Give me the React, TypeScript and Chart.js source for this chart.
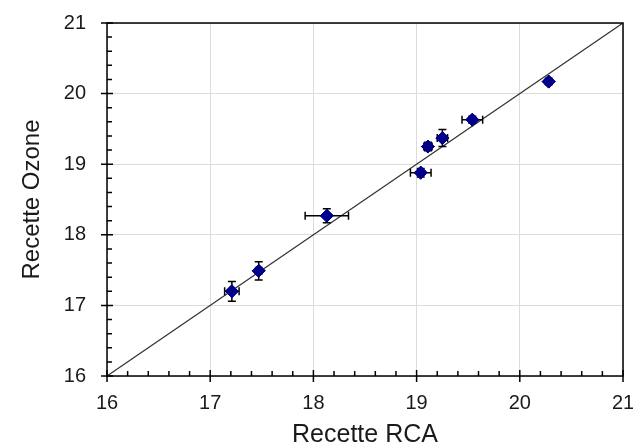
import React, { useEffect, useRef } from "react";
import { Chart, registerables } from "chart.js";

Chart.register(...registerables);

const rcaValues = [17.21, 17.47, 18.13, 19.04, 19.11, 19.25, 19.54, 20.28];
const ozoneValues = [17.2, 17.49, 18.27, 18.88, 19.25, 19.37, 19.63, 20.17];
const rcaErrors = [0.07, 0.03, 0.21, 0.1, 0.04, 0.05, 0.1, 0.03];
const ozoneErrors = [0.14, 0.13, 0.1, 0.06, 0.06, 0.12, 0.05, 0.04];
const identityLine = [16, 21];
const axisMin = 16;
const axisMax = 21;
const minorStep = 0.2;

const FONT = "'Liberation Sans', Arial, sans-serif";

const errorBarPlugin = {
  id: "errorBars",
  afterDatasetsDraw(chart: any) {
    const ctx = chart.ctx;
    const xs = chart.scales.x;
    const ys = chart.scales.y;
    ctx.save();
    ctx.strokeStyle = "#000";
    ctx.lineWidth = 1.5;
    const cap = 4;
    for (let i = 0; i < rcaValues.length; i++) {
      const px = xs.getPixelForValue(rcaValues[i]);
      const py = ys.getPixelForValue(ozoneValues[i]);
      const x1 = xs.getPixelForValue(rcaValues[i] - rcaErrors[i]);
      const x2 = xs.getPixelForValue(rcaValues[i] + rcaErrors[i]);
      const y1 = ys.getPixelForValue(ozoneValues[i] - ozoneErrors[i]);
      const y2 = ys.getPixelForValue(ozoneValues[i] + ozoneErrors[i]);
      ctx.beginPath();
      ctx.moveTo(x1, py); ctx.lineTo(x2, py);
      ctx.moveTo(x1, py - cap); ctx.lineTo(x1, py + cap);
      ctx.moveTo(x2, py - cap); ctx.lineTo(x2, py + cap);
      ctx.moveTo(px, y1); ctx.lineTo(px, y2);
      ctx.moveTo(px - cap, y1); ctx.lineTo(px + cap, y1);
      ctx.moveTo(px - cap, y2); ctx.lineTo(px + cap, y2);
      ctx.stroke();
    }
    const meta = chart.getDatasetMeta(1);
    meta.data.forEach((el: any) => el.draw(ctx, chart.chartArea));
    ctx.restore();
  },
};

const frameTicksPlugin = {
  id: "frameTicks",
  afterDraw(chart: any) {
    const ctx = chart.ctx;
    const { left, right, top, bottom } = chart.chartArea;
    const xs = chart.scales.x;
    const ys = chart.scales.y;
    ctx.save();
    ctx.strokeStyle = "#000";
    ctx.lineWidth = 1.5;
    ctx.strokeRect(left, top, right - left, bottom - top);
    ctx.beginPath();
    const n = Math.round((axisMax - axisMin) / minorStep);
    for (let k = 0; k <= n; k++) {
      const v = axisMin + k * minorStep;
      const major = k % 5 === 0;
      const px = xs.getPixelForValue(v);
      const py = ys.getPixelForValue(v);
      if (major) {
        ctx.moveTo(px, bottom + 6); ctx.lineTo(px, bottom - 6);
        ctx.moveTo(left - 6, py); ctx.lineTo(left + 6, py);
      } else {
        ctx.moveTo(px, bottom); ctx.lineTo(px, bottom - 5);
        ctx.moveTo(left, py); ctx.lineTo(left + 5, py);
      }
    }
    ctx.stroke();
    ctx.restore();
  },
};

export default function App() {
  const ref = useRef<HTMLCanvasElement>(null);
  useEffect(() => {
    if (!ref.current) return;
    const chart = new Chart(ref.current, {
      type: "scatter",
      data: {
        datasets: [
          {
            type: "line",
            data: identityLine.map((v) => ({ x: v, y: v })),
            borderColor: "#333",
            borderWidth: 1.2,
            pointRadius: 0,
            fill: false,
          } as any,
          {
            data: rcaValues.map((x, i) => ({ x, y: ozoneValues[i] })),
            pointStyle: "rectRot",
            pointRadius: 6.5,
            backgroundColor: "#00008B",
            borderColor: "#00008B",
            borderWidth: 1,
          },
        ],
      },
      options: {
        animation: false,
        responsive: false,
        maintainAspectRatio: false,
        layout: { padding: { top: 23, right: 10, left: 0, bottom: 0 } },
        plugins: { legend: { display: false }, tooltip: { enabled: false } },
        scales: {
          x: {
            type: "linear",
            min: axisMin,
            max: axisMax,
            ticks: { stepSize: 1, color: "#1a1a1a", padding: 15, font: { family: FONT, size: 20 } },
            grid: { color: "#dcdcdc", drawTicks: false, lineWidth: 1 },
            border: { display: false },
            title: { display: true, text: "Recette RCA", color: "#1a1a1a", padding: { top: 0, bottom: -1 }, font: { family: FONT, size: 25, lineHeight: 1 } },
            afterFit(scale: any) { scale.height = 71; scale.paddingRight = 0; scale.paddingLeft = 0; },
          },
          y: {
            type: "linear",
            min: axisMin,
            max: axisMax,
            ticks: { stepSize: 1, color: "#1a1a1a", padding: 21, font: { family: FONT, size: 20 } },
            grid: { color: "#dcdcdc", drawTicks: false, lineWidth: 1 },
            border: { display: false },
            title: { display: true, text: "Recette Ozone", color: "#1a1a1a", padding: { top: 20, bottom: 0 }, font: { family: FONT, size: 24, lineHeight: 1 } },
            afterFit(scale: any) { scale.width = 107; scale.paddingTop = 0; scale.paddingBottom = 0; },
          },
        },
      },
      plugins: [errorBarPlugin, frameTicksPlugin],
    });
    return () => chart.destroy();
  }, []);
  return (
    <div style={{ position: "fixed", left: 0, top: 0, width: 633, height: 447, background: "#fff" }}>
      <canvas ref={ref} width={633} height={447} style={{ width: 633, height: 447 }} />
    </div>
  );
}
